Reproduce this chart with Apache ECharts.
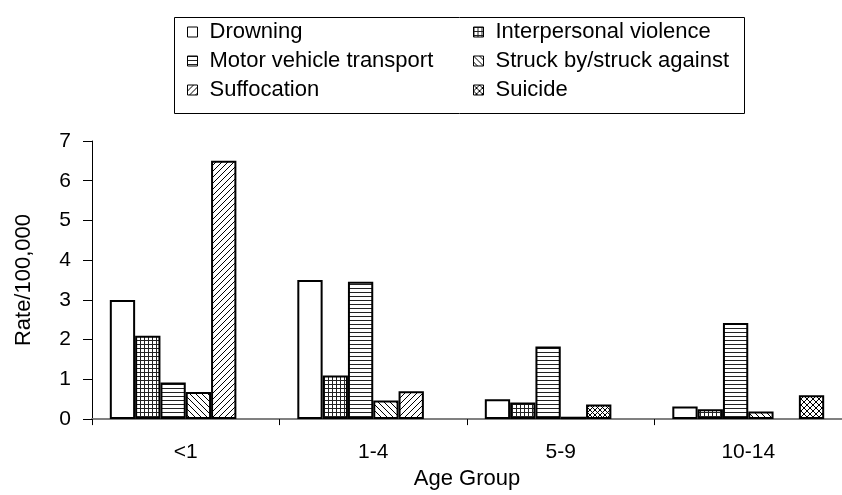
<!DOCTYPE html>
<html>
<head>
<meta charset="utf-8">
<script src="https://cdn.jsdelivr.net/npm/echarts@6/dist/echarts.min.js"></script>
<style>html,body{margin:0;padding:0;background:#fff;}#c{width:842px;height:495px;}</style>
</head>
<body>
<div id="c"></div>
<script>
const categories = ['<1', '1-4', '5-9', '10-14'];
const seriesNames = ['Drowning', 'Interpersonal violence', 'Motor vehicle transport', 'Struck by/struck against', 'Suffocation', 'Suicide'];
const drowning = [3.0, 3.5, 0.5, 0.32];
const interpersonal = [2.1, 1.1, 0.42, 0.25];
const motorVehicle = [0.92, 3.46, 1.83, 2.42];
const struckBy = [0.68, 0.47, 0.06, 0.19];
const suffocation = [6.5, 0.7, 0.37, null];
const suicide = [null, null, null, 0.6];
const yTicks = [0, 1, 2, 3, 4, 5, 6, 7];

const FONT = 'Liberation Sans, Arial, sans-serif';

function makePattern(size, draw) {
  const c = document.createElement('canvas');
  c.width = size; c.height = size;
  const ctx = c.getContext('2d');
  ctx.fillStyle = '#fff';
  ctx.fillRect(0, 0, size, size);
  ctx.strokeStyle = '#000';
  ctx.lineWidth = 1;
  draw(ctx, size);
  return { image: c, repeat: 'repeat' };
}
const pWhite = '#ffffff';
const pGrid = makePattern(4, (ctx, s) => {
  ctx.strokeStyle = '#222';
  ctx.beginPath();
  ctx.moveTo(0.5, 0); ctx.lineTo(0.5, s);
  ctx.moveTo(0, 0.5); ctx.lineTo(s, 0.5);
  ctx.stroke();
});
const pHoriz = makePattern(4, (ctx, s) => {
  ctx.strokeStyle = '#222';
  ctx.beginPath();
  ctx.moveTo(0, 0.5); ctx.lineTo(s, 0.5);
  ctx.stroke();
});
function back(ctx, s) {
  ctx.beginPath();
  ctx.moveTo(-1, -1); ctx.lineTo(s + 1, s + 1);
  ctx.moveTo(-1, s - 1); ctx.lineTo(1, s + 1);
  ctx.moveTo(s - 1, -1); ctx.lineTo(s + 1, 1);
  ctx.stroke();
}
function fwd(ctx, s) {
  ctx.beginPath();
  ctx.moveTo(-1, s + 1); ctx.lineTo(s + 1, -1);
  ctx.moveTo(-1, 1); ctx.lineTo(1, -1);
  ctx.moveTo(s - 1, s + 1); ctx.lineTo(s + 1, s - 1);
  ctx.stroke();
}
const pBack = makePattern(6, back);
const pFwd = makePattern(6, fwd);
const pCross = makePattern(6, (ctx, s) => { back(ctx, s); fwd(ctx, s); });
const pCrossDense = makePattern(5, (ctx, s) => { back(ctx, s); fwd(ctx, s); });

const fills = [pWhite, pGrid, pHoriz, pBack, pFwd, pCross];
const values = [drowning, interpersonal, motorVehicle, struckBy, suffocation, suicide];

const series = seriesNames.map((name, i) => ({
  name: name,
  type: 'bar',
  barGap: '0%',
  barCategoryGap: '19%',
  itemStyle: { color: fills[i], borderColor: '#000', borderWidth: 2 },
  emphasis: { disabled: true },
  data: values[i].map((v, j) => {
    if (i === 4 && j === 2) {
      return { value: v, itemStyle: { color: pCrossDense } };
    }
    return v;
  })
}));

const chart = echarts.init(document.getElementById('c'), null, { renderer: 'canvas' });
const legendCommon = {
  orient: 'vertical',
  top: 17.5,
  padding: 0,
  itemGap: 0,
  itemWidth: 10,
  itemHeight: 10,
  icon: 'rect',
  selectedMode: false,
  itemStyle: { borderWidth: 1, borderColor: '#000' },
  textStyle: { fontFamily: FONT, fontSize: 22, color: '#000', lineHeight: 29, padding: [0, 0, 0, 7] }
};
chart.setOption({
  animation: false,
  backgroundColor: '#fff',
  textStyle: { fontFamily: FONT },
  graphic: [{
    type: 'rect',
    shape: { x: 174.5, y: 17.5, width: 570, height: 96 },
    style: { fill: 'none', stroke: '#000', lineWidth: 1 }
  }],
  legend: [
    Object.assign({}, legendCommon, { left: 187, data: [seriesNames[0], seriesNames[2], seriesNames[4]] }),
    Object.assign({}, legendCommon, { left: 473, data: [seriesNames[1], seriesNames[3], seriesNames[5]] })
  ],
  grid: { left: 92, top: 141, height: 290, right: -11, containLabel: false },
  xAxis: {
    type: 'category',
    data: categories,
    name: 'Age Group',
    nameLocation: 'middle',
    nameGap: 45,
    nameTextStyle: { fontFamily: FONT, fontSize: 22, color: '#000' },
    axisLine: { lineStyle: { color: '#808080', width: 2 } },
    axisTick: { show: true, length: 6, lineStyle: { color: '#000', width: 1 } },
    axisLabel: { fontFamily: FONT, fontSize: 21, color: '#000', margin: 23 }
  },
  yAxis: {
    type: 'value',
    min: yTicks[0],
    max: yTicks[yTicks.length - 1],
    interval: 1,
    name: 'Rate/100,000',
    nameLocation: 'middle',
    nameGap: 57,
    nameTextStyle: { fontFamily: FONT, fontSize: 22, color: '#000' },
    axisLine: { show: true, lineStyle: { color: '#000', width: 1 } },
    axisTick: { show: true, length: 9, lineStyle: { color: '#000', width: 1 } },
    axisLabel: { fontFamily: FONT, fontSize: 21, color: '#000', margin: 21 },
    splitLine: { show: false }
  },
  series: series
});
</script>
</body>
</html>
